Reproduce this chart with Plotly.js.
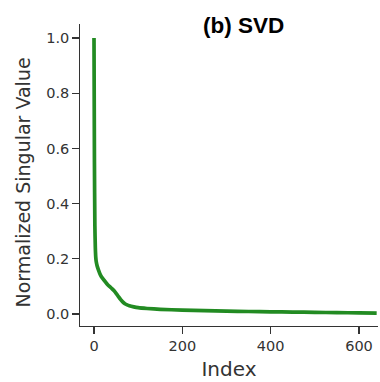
<!DOCTYPE html>
<html><head><meta charset="utf-8">
<script src="https://cdn.plot.ly/plotly-3.0.1.min.js"></script>
<style>html,body{margin:0;padding:0;background:#fff}#chart{width:380px;height:382px}</style>
</head><body><div id="chart"></div>
<script>
const indexValues = [0,1,2,3,4,5,7,10,15,20,25,30,35,40,45,50,55,60,65,70,75,80,90,100,120,150,200,250,300,350,400,450,500,550,600,640];
const singularValues = [1.0,0.55,0.32,0.24,0.205,0.19,0.175,0.16,0.14,0.128,0.118,0.108,0.1,0.093,0.085,0.075,0.064,0.053,0.044,0.037,0.033,0.03,0.026,0.023,0.02,0.017,0.014,0.012,0.0105,0.009,0.008,0.007,0.006,0.005,0.004,0.003];
const xTicks = [0,200,400,600];
const yTicks = [0.0,0.2,0.4,0.6,0.8,1.0];
const tickFont = {family:'DejaVu Sans', size:14.5, color:'#333'};
Plotly.newPlot('chart', [{
  x: indexValues, y: singularValues, type:'scatter', mode:'lines',
  line:{color:'#228B22', width:3.7, shape:'spline', smoothing:0.6}
}], {
  width:380, height:382,
  margin:{l:80, r:2, t:24, b:56},
  paper_bgcolor:'#fff', plot_bgcolor:'#fff',
  showlegend:false,
  title:{text:'<b>(b) SVD</b>', font:{family:'Liberation Sans', size:22.5, color:'#000'}, x:0.641, xanchor:'center', y:0.934, yanchor:'middle', xref:'container', yref:'container'},
  xaxis:{range:[-31.7,643], tickvals:xTicks, ticktext:xTicks.map(String), ticks:'outside', ticklen:6.5, tickwidth:1.3, tickcolor:'#333',
    showline:true, linecolor:'#333', linewidth:1.3, showgrid:false, zeroline:false, tickfont:tickFont,
    title:{text:'Index', font:{family:'DejaVu Sans', size:20, color:'#333'}, standoff:8}},
  yaxis:{range:[-0.0435,1.051], tickvals:yTicks, ticktext:yTicks.map(v=>v.toFixed(1)), ticks:'outside', ticklen:6.5, tickwidth:1.3, tickcolor:'#333',
    showline:true, linecolor:'#333', linewidth:1.3, showgrid:false, zeroline:false, tickfont:tickFont},
  annotations:[{text:'Normalized Singular Value', textangle:-90, xref:'paper', yref:'paper', x:0, y:0.508,
    xanchor:'center', yanchor:'middle', xshift:-57, yshift:-10, showarrow:false,
    font:{family:'DejaVu Sans', size:19, color:'#333'}}]
}, {displayModeBar:false, staticPlot:true});
</script></body></html>
